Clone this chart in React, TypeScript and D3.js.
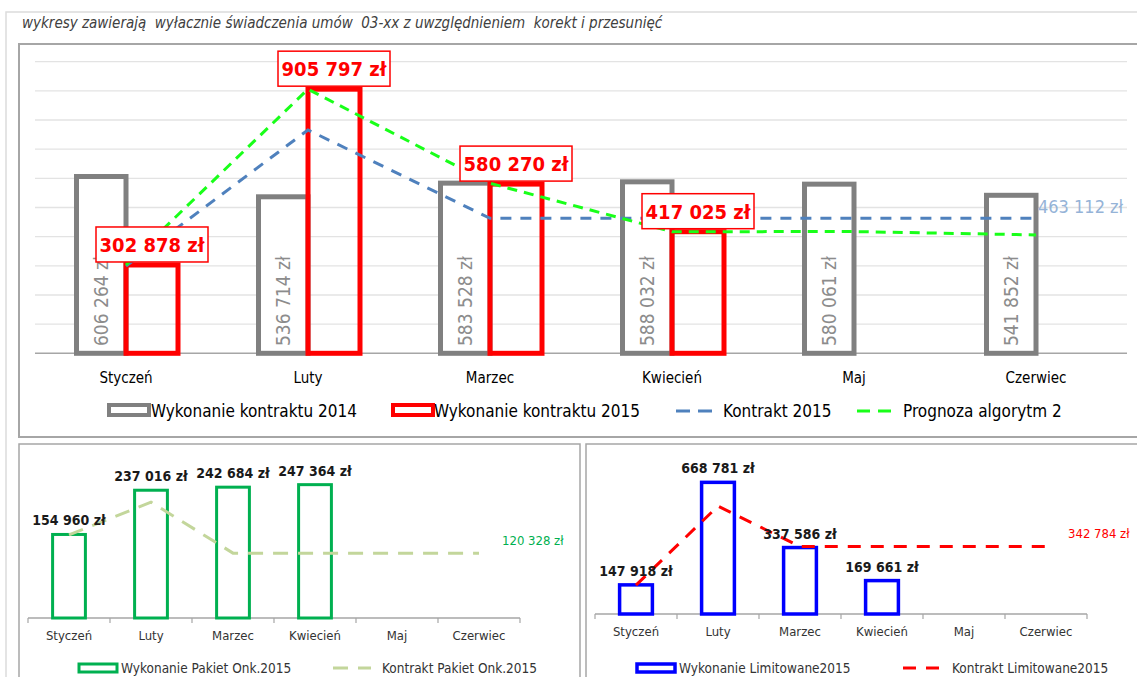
import React from 'react';
import * as d3 from 'd3';

// months on every chart
const months = ['Styczeń', 'Luty', 'Marzec', 'Kwiecień', 'Maj', 'Czerwiec'];

// main chart
const wyk2014 = [606264, 536714, 583528, 588032, 580061, 541852];
const wyk2015 = [302878, 905797, 580270, 417025, null, null];
const kontrakt2015 = [299000, 766000, 463112, 463112, 463112, 463112];
const prognoza = [302878, 905797, 583000, 417025, 417500, 406000];
const mainTicks = d3.range(0, 1000001, 100000);

// bottom left
const onkWyk = [154960, 237016, 242684, 247364, null, null];
const onkKontrakt = [154000, 215000, 120328, 120328, 120328, 120328];

// bottom right
const limWyk = [147918, 668781, 337586, 169661, null, null];
const limKontrakt = [147000, 548000, 342784, 342784, 342784, 342784];

const FONT = "'DejaVu Sans Condensed', 'Liberation Sans', sans-serif";
const fmt = (v: number) => d3.format(',')(v).replace(/,/g, ' ') + ' zł';

type P = [number, number];

const MainChart = () => {
  const x = d3.scaleBand<string>().domain(months).range([35, 1127]);
  const bw = x.bandwidth();
  const x1 = d3.scaleBand<string>().domain(['a', 'b']).range([0, bw]).paddingOuter(0.75);
  const y = d3.scaleLinear().domain([0, 1000000]).range([353.3, 61.7]);
  const cx = (m: string) => (x(m) as number) + bw / 2;
  const line = d3.line<P>().x(d => d[0]).y(d => d[1]);
  const pts = (arr: number[]) => arr.map((v, i) => [cx(months[i]), y(v)] as P);

  return (
    <g>
      {mainTicks.map(t => (
        <line key={t} x1={35} x2={1127} y1={y(t)} y2={y(t)}
          stroke={t === 0 ? '#a6a6a6' : '#e3e3e3'} strokeWidth={t === 0 ? 1.5 : 1.3} />
      ))}
      {months.map((m, i) => {
        const gx = (x(m) as number) + (x1('a') as number);
        const v = wyk2014[i];
        return (
          <g key={m}>
            <rect x={gx + 2.5} y={y(v)} width={x1.bandwidth() - 2.5} height={y(0) - y(v)}
              fill="#fff" stroke="#808080" strokeWidth={5} />
            <text transform={`translate(${gx + x1.bandwidth() / 2 + 8},346) rotate(-90)`}
              fontFamily={FONT} fontSize={19} fill="#8c8c8c">{fmt(v)}</text>
          </g>
        );
      })}
      {months.map((m, i) => {
        const v = wyk2015[i];
        if (v == null) return null;
        const rx = (x(m) as number) + (x1('b') as number);
        return (
          <rect key={m} x={rx} y={y(v)} width={x1.bandwidth()} height={y(0) - y(v)}
            fill="none" stroke="#ff0000" strokeWidth={5} />
        );
      })}
      <path d={line(pts(kontrakt2015)) as string} fill="none" stroke="#4f81bd" strokeWidth={3} strokeDasharray="11,9" />
      <path d={line(pts(prognoza)) as string} fill="none" stroke="#19ff19" strokeWidth={3} strokeDasharray="10,7" />
      {months.map((m, i) => {
        const v = wyk2015[i];
        if (v == null) return null;
        const c = (x(m) as number) + (x1('b') as number) + x1.bandwidth() / 2;
        const top = y(v) - 38;
        return (
          <g key={m}>
            <rect x={c - 56} y={top} width={112} height={35} fill="#fff" stroke="#ff0000" strokeWidth={1.5} />
            <text x={c} y={top + 25} textAnchor="middle" fontFamily={FONT} fontWeight="bold"
              fontSize={20} fill="#ff0000">{fmt(v)}</text>
          </g>
        );
      })}
      <text x={1038} y={213} fontFamily={FONT} fontSize={18} fill="#95b3d7">{fmt(kontrakt2015[5])}</text>
      {months.map(m => (
        <text key={m} x={cx(m)} y={383} textAnchor="middle" fontFamily={FONT} fontSize={15} fill="#000">{m}</text>
      ))}
      <g fontFamily={FONT} fontSize={17} fill="#000">
        <rect x={109} y={405} width={40} height={10} fill="#fff" stroke="#808080" strokeWidth={4} />
        <text x={151} y={417}>Wykonanie kontraktu 2014</text>
        <rect x={393} y={405} width={40} height={10} fill="#fff" stroke="#ff0000" strokeWidth={4} />
        <text x={434} y={417}>Wykonanie kontraktu 2015</text>
        <line x1={676} x2={718} y1={411} y2={411} stroke="#4f81bd" strokeWidth={3} strokeDasharray="14,8" />
        <text x={723} y={417}>Kontrakt 2015</text>
        <line x1={857} x2={898} y1={411} y2={411} stroke="#19ff19" strokeWidth={3} strokeDasharray="13,8" />
        <text x={903} y={417}>Prognoza algorytm 2</text>
      </g>
    </g>
  );
};

type SmallProps = {
  x0: number; x1: number; base: number; max: number; top: number;
  bars: (number | null)[]; contract: number[];
  barColor: string; barWidth: number; lineColor: string; dash: string;
  endLabelColor: string; endLabelX: number; endLabelDy: number;
  legendBar: string; legendLine: string; legendX: number[];
};

const SmallChart = (p: SmallProps) => {
  const x = d3.scaleBand<string>().domain(months).range([p.x0, p.x1]).paddingInner(0.6).paddingOuter(0.3);
  const y = d3.scaleLinear().domain([0, p.max]).range([p.base, p.top]);
  const cx = (m: string) => (x(m) as number) + x.bandwidth() / 2;
  const step = x.step();
  const line = d3.line<P>().x(d => d[0]).y(d => d[1]);
  const pts = p.contract.map((v, i) => [cx(months[i]), y(v)] as P);
  const ticks = d3.range(7).map(i => p.x0 + i * step);
  return (
    <g>
      <line x1={p.x0} x2={p.x1} y1={p.base} y2={p.base} stroke="#a6a6a6" strokeWidth={1.5} />
      {ticks.map(t => <line key={t} x1={t} x2={t} y1={p.base} y2={p.base + 5} stroke="#a6a6a6" strokeWidth={1.2} />)}
      {months.map((m, i) => {
        const v = p.bars[i];
        if (v == null) return null;
        return <rect key={m} x={x(m)} y={y(v)} width={x.bandwidth()} height={y(0) - y(v)}
          fill="none" stroke={p.barColor} strokeWidth={p.barWidth} />;
      })}
      <path d={line(pts) as string} fill="none" stroke={p.lineColor} strokeWidth={3} strokeDasharray={p.dash} />
      {months.map((m, i) => {
        const v = p.bars[i];
        if (v == null) return null;
        return <text key={m} x={cx(m)} y={y(v) - 9} textAnchor="middle" fontFamily={FONT}
          fontWeight="bold" fontSize={14} fill="#1a1a1a">{fmt(v)}</text>;
      })}
      <text x={p.endLabelX} y={y(p.contract[5]) + p.endLabelDy} fontFamily={FONT} fontSize={13}
        fill={p.endLabelColor}>{fmt(p.contract[5])}</text>
      {months.map(m => (
        <text key={m} x={cx(m)} y={p.base + 22} textAnchor="middle" fontFamily={FONT} fontSize={13} fill="#333">{m}</text>
      ))}
      <g fontFamily={FONT} fontSize={13.5} fill="#333">
        <rect x={p.legendX[0]} y={664} width={38} height={8} fill="#fff" stroke={p.barColor} strokeWidth={p.barWidth} />
        <text x={p.legendX[0] + 42} y={673}>{p.legendBar}</text>
        <line x1={p.legendX[1]} x2={p.legendX[1] + 38} y1={668} y2={668} stroke={p.lineColor} strokeWidth={3} strokeDasharray={p.dash} />
        <text x={p.legendX[1] + 49} y={673}>{p.legendLine}</text>
      </g>
    </g>
  );
};

export default function App() {
  return (
    <svg width={1137} height={677} style={{ position: 'absolute', left: 0, top: 0, background: '#fff' }}>
      <rect x={0} y={0} width={1137} height={677} fill="#fff" />
      <path d="M6,677 V12 H1137" fill="none" stroke="#dcdcdc" strokeWidth={1.5} />
      <text x={22} y={28} fontFamily={FONT} fontStyle="italic" fontSize={15} fill="#404040" style={{ whiteSpace: 'pre' }}>
        {'wykresy zawierają  wyłacznie świadczenia umów  03-xx z uwzględnieniem  korekt i przesunięć'}
      </text>
      <rect x={19} y={44} width={1130} height={393} fill="#fff" stroke="#a6a6a6" strokeWidth={2} />
      <rect x={19} y={444} width={561} height={250} fill="#fff" stroke="#a6a6a6" strokeWidth={1.5} />
      <rect x={586} y={444} width={560} height={250} fill="#fff" stroke="#a6a6a6" strokeWidth={1.5} />
      <MainChart />
      <SmallChart x0={28} x1={520} base={618} max={300000} top={618 - 300000 / 1855}
        bars={onkWyk} contract={onkKontrakt} barColor="#00b050" barWidth={3}
        lineColor="#c3d69b" dash="15,10" endLabelColor="#00b050" endLabelX={502} endLabelDy={-8}
        legendBar="Wykonanie Pakiet Onk.2015" legendLine="Kontrakt Pakiet Onk.2015" legendX={[79, 333]} />
      <SmallChart x0={595} x1={1087} base={614} max={800000} top={614 - 800000 / 5080}
        bars={limWyk} contract={limKontrakt} barColor="#0000ff" barWidth={3.5}
        lineColor="#ff0000" dash="13,10" endLabelColor="#ff0000" endLabelX={1068} endLabelDy={-9}
        legendBar="Wykonanie Limitowane2015" legendLine="Kontrakt Limitowane2015" legendX={[637, 903]} />
    </svg>
  );
}
